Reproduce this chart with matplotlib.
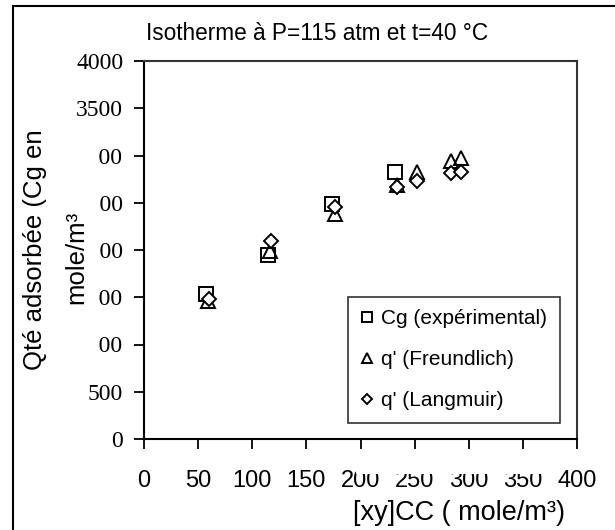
import matplotlib.pyplot as plt
from matplotlib.patches import Rectangle

# --- données ---
cg_x = [57, 115, 174, 232]
cg_y = [1530, 1950, 2485, 2830]
fr_x = [59, 116, 176, 234, 252, 284, 293]
fr_y = [1460, 1985, 2380, 2690, 2825, 2940, 2975]
la_x = [60, 117, 176, 234, 252, 284, 293]
la_y = [1485, 2100, 2450, 2668, 2725, 2815, 2830]

x_ticks = [0, 50, 100, 150, 200, 250, 300, 350, 400]
y_ticks = [0, 500, 1000, 1500, 2000, 2500, 3000, 3500, 4000]

SANS = ['Liberation Sans', 'DejaVu Sans']
SERIF = ['Liberation Serif', 'DejaVu Serif']
plt.rcParams['font.family'] = SANS

W, H = 615, 530
fig = plt.figure(figsize=(W / 100, H / 100), dpi=100)

def fx(px):
    return px / W

def fy(py):
    return 1 - py / H

ax = fig.add_axes([fx(144), fy(439), fx(577) - fx(144), fy(61) - fy(439)])

ax.plot(cg_x, cg_y, ls='none', marker='s', ms=10, mfc='none', mec='black', mew=1.4,
        label="Cg (expérimental)")
ax.plot(fr_x, fr_y, ls='none', marker='^', ms=10, mfc='none', mec='black', mew=1.4,
        label="q' (Freundlich)")
ax.plot(la_x, la_y, ls='none', marker='D', ms=7.5, mfc='white', mec='black', mew=1.4,
        label="q' (Langmuir)")

ax.set_xlim(0, 400)
ax.set_ylim(0, 4000)
ax.set_xticks(x_ticks)
ax.set_yticks(y_ticks)
ax.tick_params(axis='x', direction='out', length=7, width=1.3, pad=15, labelsize=17)
ax.tick_params(axis='y', direction='out', length=7, width=1.3, pad=8, labelsize=17)
for lab in ax.get_yticklabels():
    lab.set_fontfamily(SERIF)
for sp in ax.spines.values():
    sp.set_linewidth(1.5)
ax.spines['top'].set_color('#333333')
ax.spines['right'].set_color('#333333')

leg = ax.legend(loc='upper left', bbox_to_anchor=((348 - 144) / 433, (439 - 297) / 378),
                borderaxespad=0, frameon=True, fancybox=False, edgecolor='black',
                fontsize=15, numpoints=1, markerscale=0.65, handlelength=0.6,
                handletextpad=0.4, labelspacing=1.05, borderpad=0.6)
leg.get_frame().set_linewidth(1.2)

# titre et axes
fig.text(fx(317), fy(33), "Isotherme à P=115 atm et t=40 °C", ha='center', va='center',
         fontsize=16.3)
fig.text(fx(459), fy(513), "[xy]CC ( mole/m³)", ha='center', va='center', fontsize=19.5)

# cache blanc derrière le titre vertical (comme dans l'original)
fig.patches.append(Rectangle((fx(18), fy(370)), fx(99) - fx(18), fy(130) - fy(370),
                             transform=fig.transFigure, facecolor='white',
                             edgecolor='none', zorder=1))
fig.patches.append(Rectangle((fx(356), fy(474)), fx(550) - fx(356), fy(455) - fy(474),
                             transform=fig.transFigure, facecolor='white',
                             edgecolor='none', zorder=1))
fig.text(fx(35), fy(250), "Qté adsorbée (Cg en", rotation=90, ha='center', va='center',
         fontsize=18.5, zorder=3)
fig.text(fx(76), fy(257), "mole/m³", rotation=90, ha='center', va='center',
         fontsize=18.5, zorder=3)

# cadre extérieur
fig.patches.append(Rectangle((fx(13), fy(H + 20)), 1.2, fy(6) - fy(H + 20),
                             transform=fig.transFigure, fill=False, edgecolor='black',
                             linewidth=1.5, clip_on=False, zorder=4))

fig.savefig("out.png", dpi=100)
